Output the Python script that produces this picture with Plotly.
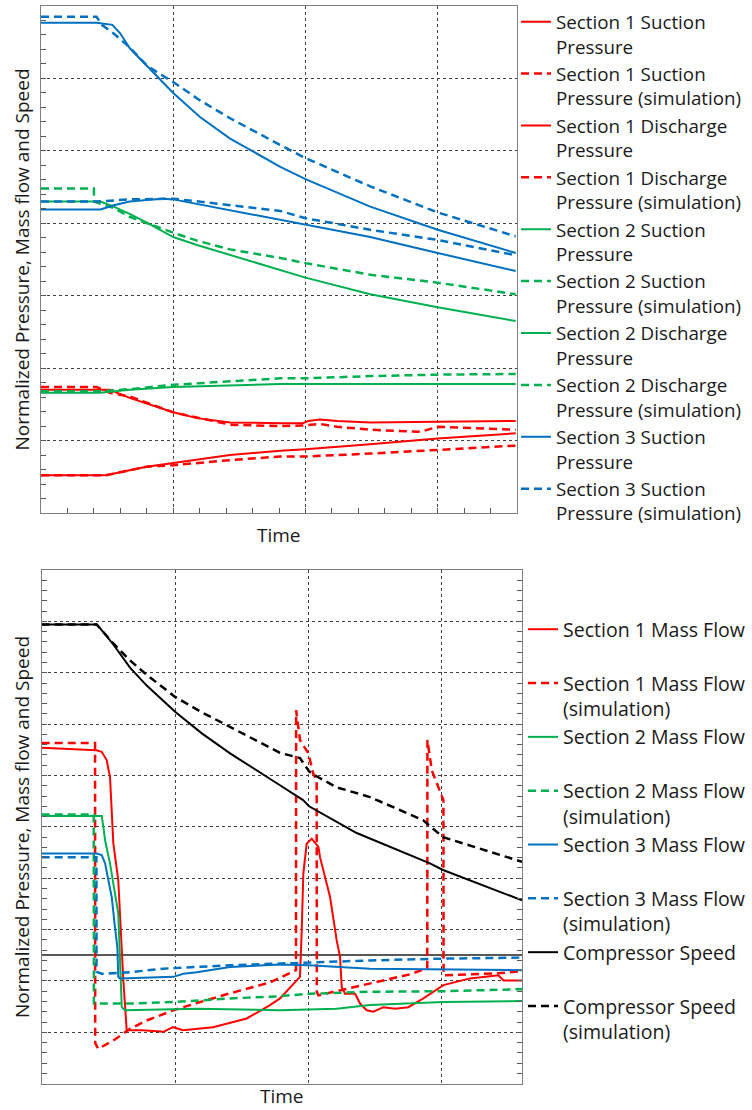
import plotly.graph_objects as go

RED = "#FF0000"
GREEN = "#00B050"
BLUE = "#0070C0"
BLACK = "#000000"

# ---------------- top chart: normalized pressures ----------------
s1_suc_t = [0, 0.49, 0.67, 0.80, 1.0, 1.43, 1.81, 2.0, 2.49, 3.0, 3.59]
s1_suc_v = [0.52, 0.52, 0.59, 0.64, 0.69, 0.80, 0.86, 0.88, 0.95, 1.03, 1.10]
s1_suc_sim_t = [0, 0.49, 0.67, 0.80, 1.0, 1.43, 1.81, 2.0, 2.49, 3.0, 3.59]
s1_suc_sim_v = [0.52, 0.52, 0.59, 0.64, 0.66, 0.73, 0.78, 0.78, 0.82, 0.87, 0.93]

s1_dis_t = [0, 0.52, 0.67, 1.0, 1.18, 1.43, 1.81, 1.98, 2.02, 2.11, 2.24, 2.49, 3.0, 3.59]
s1_dis_v = [1.70, 1.70, 1.59, 1.39, 1.31, 1.25, 1.24, 1.24, 1.27, 1.29, 1.27, 1.25, 1.26, 1.27]
s1_dis_sim_t = [0, 0.42, 0.52, 0.67, 1.0, 1.43, 1.81, 2.0, 2.11, 2.24, 2.49, 2.87, 3.0, 3.59]
s1_dis_sim_v = [1.74, 1.74, 1.66, 1.61, 1.39, 1.22, 1.20, 1.21, 1.23, 1.19, 1.15, 1.12, 1.19, 1.15]

s2_suc_t = [0, 0.45, 0.67, 1.0, 1.81, 2.5, 3.0, 3.59]
s2_suc_v = [1.66, 1.66, 1.70, 1.74, 1.78, 1.78, 1.79, 1.78]
s2_suc_sim_t = [0, 0.45, 0.67, 1.0, 1.81, 2.0, 2.49, 3.0, 3.59]
s2_suc_sim_v = [1.68, 1.68, 1.71, 1.77, 1.86, 1.86, 1.89, 1.91, 1.92]

s2_dis_t = [0, 0.45, 0.55, 0.67, 0.80, 1.0, 1.18, 1.43, 1.81, 2.0, 2.49, 3.0, 3.59]
s2_dis_v = [4.30, 4.30, 4.23, 4.13, 4.01, 3.81, 3.70, 3.56, 3.35, 3.25, 3.02, 2.84, 2.65]
s2_dis_sim_t = [0, 0.40, 0.401, 0.55, 0.67, 0.80, 0.90, 1.0, 1.18, 1.43, 1.81, 2.0, 2.49, 3.0, 3.59]
s2_dis_sim_v = [4.48, 4.48, 4.30, 4.21, 4.09, 4.00, 3.93, 3.87, 3.76, 3.64, 3.52, 3.45, 3.29, 3.18, 3.02]

s3_suc_t = [0, 0.45, 0.55, 0.67, 0.80, 0.92, 1.0, 1.43, 1.81, 2.0, 2.49, 3.0, 3.59]
s3_suc_v = [4.19, 4.19, 4.25, 4.30, 4.32, 4.34, 4.33, 4.18, 4.05, 3.98, 3.81, 3.59, 3.34]
s3_suc_sim_t = [0, 0.42, 0.67, 1.0, 1.43, 1.81, 2.0, 2.49, 3.0, 3.59]
s3_suc_sim_v = [4.30, 4.30, 4.33, 4.34, 4.25, 4.17, 4.07, 3.91, 3.77, 3.56]

s3_dis_t = [0, 0.42, 0.54, 0.60, 0.67, 0.80, 0.90, 1.0, 1.20, 1.43, 1.81, 2.0, 2.49, 3.0, 3.59]
s3_dis_v = [6.77, 6.77, 6.74, 6.62, 6.42, 6.17, 5.98, 5.80, 5.47, 5.17, 4.78, 4.61, 4.23, 3.91, 3.59]
s3_dis_sim_t = [0, 0.42, 0.46, 0.55, 0.67, 0.80, 0.90, 1.0, 1.20, 1.43, 1.81, 2.0, 2.49, 3.0, 3.59]
s3_dis_sim_v = [6.85, 6.85, 6.74, 6.62, 6.43, 6.18, 6.06, 5.95, 5.70, 5.45, 5.08, 4.90, 4.51, 4.15, 3.82]

# ---------------- bottom chart: mass flows and speed ----------------
m1_t = [0, 0.41, 0.45, 0.487, 0.512, 0.524, 0.537, 0.574, 0.612, 0.637, 0.759, 0.912, 0.984,
        1.059, 1.284, 1.537, 1.711, 1.786, 1.861, 1.936, 1.949, 1.961, 1.986, 2.024, 2.074,
        2.086, 2.161, 2.211, 2.236, 2.249, 2.274, 2.349, 2.386, 2.436, 2.486, 2.561, 2.648,
        2.748, 2.861, 3.011, 3.211, 3.423, 3.461, 3.6]
m1_v = [4.04, 3.99, 3.96, 3.80, 3.47, 2.82, 2.18, 1.46, -0.49, -1.46, -1.46, -1.49, -1.40,
        -1.46, -1.40, -1.23, -0.97, -0.84, -0.62, -0.42, 0.49, 1.59, 2.17, 2.27, 2.11,
        1.91, 1.14, 0.29, -0.03, -0.62, -0.75, -0.75, -0.94, -1.07, -1.10, -1.01, -1.04,
        -1.01, -0.84, -0.58, -0.45, -0.39, -0.49, -0.49]
m1_sim_t = [0, 0.40, 0.401, 0.424, 0.537, 0.662, 0.787, 0.987, 1.162, 1.412, 1.711, 1.906,
            1.907, 1.936, 1.999, 2.036, 2.061, 2.062, 2.074, 2.211, 2.461, 2.761, 2.89, 2.891,
            2.924, 2.986, 3.011, 3.012, 3.42, 3.6]
m1_sim_v = [4.13, 4.13, -1.71, -1.82, -1.66, -1.43, -1.27, -1.07, -0.93, -0.74, -0.53, -0.29,
            4.77, 4.19, 3.93, 3.53, 3.41, -0.71, -0.78, -0.70, -0.55, -0.37, -0.25, 4.19,
            3.60, 3.21, 3.02, -0.39, -0.35, -0.31]

m2_t = [0, 0.45, 0.462, 0.475, 0.512, 0.574, 0.60, 0.624, 1.162, 1.786, 2.211, 2.461, 3.008, 3.6]
m2_v = [2.71, 2.71, 2.50, 2.24, 1.79, 0.81, -1.01, -1.07, -1.04, -1.07, -1.04, -0.97, -0.91, -0.89]
m2_sim_t = [0, 0.39, 0.391, 0.662, 1.0, 1.412, 1.762, 2.004, 2.461, 3.008, 3.6]
m2_sim_v = [2.74, 2.74, -0.94, -0.94, -0.91, -0.84, -0.80, -0.75, -0.71, -0.70, -0.66]

m3_t = [0, 0.412, 0.45, 0.475, 0.50, 0.525, 0.549, 0.567, 0.574, 0.587, 0.987, 1.062, 1.162,
        1.412, 1.786, 2.004, 2.461, 3.008, 3.6]
m3_v = [1.98, 1.98, 1.95, 1.79, 1.46, 1.13, 0.55, 0.16, -0.42, -0.45, -0.42, -0.36, -0.33,
        -0.23, -0.18, -0.195, -0.26, -0.28, -0.29]
m3_sim_t = [0, 0.41, 0.411, 0.45, 0.662, 0.912, 1.412, 1.786, 2.004, 2.461, 3.008, 3.6]
m3_sim_v = [1.91, 1.91, -0.325, -0.36, -0.33, -0.26, -0.195, -0.16, -0.13, -0.10, -0.065, -0.045]

spd_t = [0, 0.412, 0.437, 0.537, 0.662, 0.787, 1.0, 1.20, 1.412, 1.60, 1.786, 1.959, 2.004,
         2.361, 2.91, 3.008, 3.6]
spd_v = [6.44, 6.44, 6.37, 6.05, 5.60, 5.25, 4.74, 4.32, 3.93, 3.61, 3.31, 3.02, 2.90,
         2.38, 1.79, 1.66, 1.07]
spd_sim_t = [0, 0.412, 0.537, 0.662, 0.787, 1.0, 1.20, 1.412, 1.60, 1.786, 1.936, 2.004, 2.056,
             2.211, 2.461, 2.858, 3.008, 3.6]
spd_sim_v = [6.44, 6.44, 6.07, 5.74, 5.46, 5.03, 4.73, 4.44, 4.19, 3.94, 3.84, 3.58, 3.49,
             3.27, 3.08, 2.63, 2.30, 1.82]

fig = go.Figure()

SOLID_W = 2
DASH_W = 2.5
DASH = "8px,5px"


def add(t, v, name, color, dashed, axis, legend, show=True):
    xa, ya = axis
    fig.add_trace(go.Scatter(
        x=t, y=v, name=name, mode="lines",
        line=dict(color=color, width=DASH_W if dashed else SOLID_W,
                  dash=DASH if dashed else "solid"),
        xaxis=xa, yaxis=ya, legend=legend, showlegend=show,
    ))


TOP = ("x", "y")
BOT = ("x2", "y2")

add(s1_suc_t, s1_suc_v, "Section 1 Suction<br>Pressure", RED, False, TOP, "legend")
add(s1_suc_sim_t, s1_suc_sim_v, "Section 1 Suction<br>Pressure (simulation)", RED, True, TOP, "legend")
add(s1_dis_t, s1_dis_v, "Section 1 Discharge<br>Pressure", RED, False, TOP, "legend")
add(s1_dis_sim_t, s1_dis_sim_v, "Section 1 Discharge<br>Pressure (simulation)", RED, True, TOP, "legend")
add(s2_suc_t, s2_suc_v, "Section 2 Suction<br>Pressure", GREEN, False, TOP, "legend")
add(s2_suc_sim_t, s2_suc_sim_v, "Section 2 Suction<br>Pressure (simulation)", GREEN, True, TOP, "legend")
add(s2_dis_t, s2_dis_v, "Section 2 Discharge<br>Pressure", GREEN, False, TOP, "legend")
add(s2_dis_sim_t, s2_dis_sim_v, "Section 2 Discharge<br>Pressure (simulation)", GREEN, True, TOP, "legend")
add(s3_suc_t, s3_suc_v, "Section 3 Suction<br>Pressure", BLUE, False, TOP, "legend")
add(s3_suc_sim_t, s3_suc_sim_v, "Section 3 Suction<br>Pressure (simulation)", BLUE, True, TOP, "legend")
add(s3_dis_t, s3_dis_v, "Section 3 Discharge<br>Pressure", BLUE, False, TOP, "legend", show=False)
add(s3_dis_sim_t, s3_dis_sim_v, "Section 3 Discharge<br>Pressure (simulation)", BLUE, True, TOP, "legend", show=False)

add(m1_t, m1_v, "Section 1 Mass Flow<br>&nbsp;", RED, False, BOT, "legend2")
add(m1_sim_t, m1_sim_v, "Section 1 Mass Flow<br>(simulation)", RED, True, BOT, "legend2")
add(m2_t, m2_v, "Section 2 Mass Flow<br>&nbsp;", GREEN, False, BOT, "legend2")
add(m2_sim_t, m2_sim_v, "Section 2 Mass Flow<br>(simulation)", GREEN, True, BOT, "legend2")
add(m3_t, m3_v, "Section 3 Mass Flow<br>&nbsp;", BLUE, False, BOT, "legend2")
add(m3_sim_t, m3_sim_v, "Section 3 Mass Flow<br>(simulation)", BLUE, True, BOT, "legend2")
add(spd_t, spd_v, "Compressor Speed<br>&nbsp;", BLACK, False, BOT, "legend2")
add(spd_sim_t, spd_sim_v, "Compressor Speed<br>(simulation)", BLACK, True, BOT, "legend2")

W, H = 752, 1110
GRID = "#404040"
LINE = "#7f7f7f"
TICK = "#595959"
FONT = "Open Sans"
TXT = "#1a1a1a"

grid_common = dict(showgrid=True, gridcolor=GRID, gridwidth=1, griddash="3px,3px",
                   showticklabels=False, zeroline=False, showline=True,
                   linecolor=LINE, linewidth=1)

fig.update_layout(
    width=W, height=H,
    margin=dict(l=0, r=0, t=0, b=0),
    paper_bgcolor="white", plot_bgcolor="white",
    font=dict(family=FONT, size=19, color=TXT),
    xaxis=dict(domain=[41 / W, 517 / W], range=[0, 3.6], anchor="y",
               tick0=0, dtick=1, ticks="inside", ticklen=5, tickcolor=TICK,
               minor=dict(dtick=0.2, ticks="inside", ticklen=5, tickcolor=TICK, showgrid=False),
               mirror=True, **grid_common),
    yaxis=dict(domain=[1 - 513 / H, 1 - 6 / H], range=[0, 7], anchor="x",
               tick0=0, dtick=1, ticks="inside", ticklen=5, tickcolor=TICK,
               minor=dict(dtick=0.2, ticks="inside", ticklen=5, tickcolor=TICK, showgrid=False),
               mirror=True, **grid_common),
    xaxis2=dict(domain=[41.7 / W, 522 / W], range=[0, 3.6], anchor="y2",
                tick0=0, dtick=1, ticks="", mirror=True, **grid_common),
    yaxis2=dict(domain=[1 - 1083.7 / H, 1 - 570 / H], range=[-2.5, 7.5], anchor="x2",
                tick0=0.5, dtick=1, ticks="inside", ticklen=5, tickcolor=TICK,
                minor=dict(tick0=0.5, dtick=0.2, ticks="inside", ticklen=5, tickcolor=TICK,
                           showgrid=False),
                mirror="ticks",
                showgrid=True, gridcolor=GRID, gridwidth=1, griddash="3px,3px",
                showticklabels=False, showline=True, linecolor=LINE, linewidth=1,
                zeroline=True, zerolinecolor=TICK, zerolinewidth=1.5),
    xaxis3=dict(overlaying="x2", anchor="free", position=1 - 955 / H, side="bottom",
                range=[0, 3.6], tick0=0, dtick=0.2, ticks="inside", ticklen=6,
                tickcolor=TICK, showticklabels=False, showgrid=False, zeroline=False,
                showline=False),
    legend=dict(x=516 / W, y=1 - 3 / H, xanchor="left", yanchor="top", valign="top",
                bgcolor="rgba(0,0,0,0)", font=dict(family=FONT, size=18.8, color=TXT),
                tracegroupgap=0, itemwidth=30),
    legend2=dict(x=523 / W, y=1 - 610 / H, xanchor="left", yanchor="top", valign="top",
                 bgcolor="rgba(0,0,0,0)", font=dict(family=FONT, size=19.55, color=TXT),
                 tracegroupgap=0, itemwidth=30),
    annotations=[
        dict(text="Normalized Pressure, Mass flow and Speed", xref="paper", yref="paper",
             x=22 / W, y=1 - 259.5 / H, textangle=-90, showarrow=False,
             font=dict(family=FONT, size=19, color=TXT), xanchor="center", yanchor="middle"),
        dict(text="Normalized Pressure, Mass flow and Speed", xref="paper", yref="paper",
             x=22 / W, y=1 - 827 / H, textangle=-90, showarrow=False,
             font=dict(family=FONT, size=19, color=TXT), xanchor="center", yanchor="middle"),
        dict(text="Time", xref="paper", yref="paper", x=279 / W, y=1 - 535 / H,
             showarrow=False, font=dict(family=FONT, size=19, color=TXT),
             xanchor="center", yanchor="middle"),
        dict(text="Time", xref="paper", yref="paper", x=282 / W, y=1 - 1096 / H,
             showarrow=False, font=dict(family=FONT, size=19, color=TXT),
             xanchor="center", yanchor="middle"),
    ],
)

fig.write_html("out.html")
